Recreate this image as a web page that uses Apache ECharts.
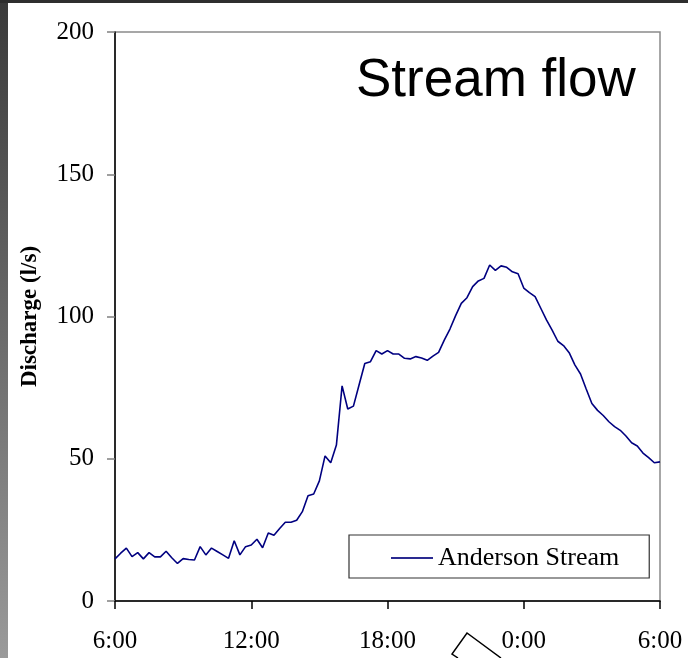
<!DOCTYPE html>
<html>
<head>
<meta charset="utf-8">
<script src="https://cdn.jsdelivr.net/npm/echarts@6/dist/echarts.min.js"></script>
<style>
html,body{margin:0;padding:0;background:#fff;}
#chart{width:688px;height:658px;}
</style>
</head>
<body>
<div id="chart"></div>
<script>
// 15-minute readings from 6:00 to 6:00 the next day
const seriesName = 'Anderson Stream';
const discharge = [
  14.8, 16.8, 18.6, 15.6, 17.0, 14.8, 17.0, 15.5, 15.5, 17.5,
  15.2, 13.2, 14.9, 14.6, 14.4, 19.1, 16.2, 18.6, 17.4, 16.2,
  15.0, 21.2, 16.2, 19.1, 19.7, 21.7, 18.7, 23.9, 23.1, 25.5,
  27.7, 27.7, 28.4, 31.4, 37.0, 37.6, 42.2, 51.0, 48.6, 54.8,
  75.6, 67.5, 68.5, 76.0, 83.5, 84.1, 88.0, 86.8, 88.0, 86.8,
  86.8, 85.3, 85.1, 85.9, 85.4, 84.6, 86.1, 87.4, 91.7, 95.6,
  100.3, 104.6, 106.6, 110.5, 112.5, 113.4, 118.1, 116.2, 117.8, 117.3,
  115.7, 115.0, 110.0, 108.4, 107.0, 102.9, 98.8, 95.2, 91.3, 89.8,
  87.3, 83.0, 79.8, 74.5, 69.4, 67.0, 65.2, 63.0, 61.3, 60.0,
  58.0, 55.6, 54.5, 52.0, 50.4, 48.6, 48.9
];
const stepHours = 0.25;
const xTickLabels = ['6:00', '12:00', '18:00', '0:00', '6:00'];
const yTicks = [0, 50, 100, 150, 200];
const titleText = 'Stream flow';
const yAxisTitle = 'Discharge (l/s)';

const points = discharge.map((v, i) => [i * stepHours, v]);
const serif = "'Liberation Serif','Times New Roman',serif";

const chart = echarts.init(document.getElementById('chart'));
chart.setOption({
  animation: false,
  backgroundColor: '#ffffff',
  title: {
    text: titleText,
    left: 356, top: 55, padding: 0,
    textStyle: {fontFamily: "'Liberation Sans',Arial,sans-serif", fontSize: 53, fontWeight: 'normal', color: '#000'}
  },
  grid: {
    left: 115, top: 32, right: 28, bottom: 57,
    show: true, borderColor: '#8a8a8a', borderWidth: 1.5, backgroundColor: 'transparent'
  },
  legend: {
    data: [{name: seriesName, icon: 'rect'}],
    left: 349, top: 535,
    padding: [10, 30, 7, 42],
    itemWidth: 42, itemHeight: 2,
    backgroundColor: '#fff',
    borderColor: '#333', borderWidth: 1.2,
    itemStyle: {color: '#2a2a90'},
    textStyle: {fontFamily: serif, fontSize: 26, color: '#000'}
  },
  xAxis: {
    type: 'value', min: 0, max: 24, interval: 6,
    axisLine: {show: true, lineStyle: {color: '#000', width: 1.5}},
    axisTick: {show: true, length: 8, lineStyle: {color: '#000', width: 1.5}},
    splitLine: {show: false},
    axisLabel: {
      margin: 28, color: '#000', fontFamily: serif, fontSize: 25,
      formatter: v => xTickLabels[Math.round(v / 6)]
    }
  },
  yAxis: {
    type: 'value', min: yTicks[0], max: yTicks[yTicks.length - 1], interval: 50,
    name: yAxisTitle, nameLocation: 'middle', nameGap: 73, nameRotate: 90,
    nameTextStyle: {fontFamily: serif, fontSize: 23, fontWeight: 'bold', color: '#000'},
    axisLine: {show: true, lineStyle: {color: '#000', width: 1.5}},
    axisTick: {show: true, length: 8, lineStyle: {color: '#808080', width: 1.5}},
    splitLine: {show: false},
    axisLabel: {margin: 21, color: '#000', fontFamily: serif, fontSize: 25}
  },
  series: [{
    name: seriesName,
    type: 'line',
    data: points,
    symbol: 'none',
    lineStyle: {color: '#000080', width: 1.6},
    itemStyle: {color: '#000080'}
  }],
  graphic: [
    {type: 'rect', left: 0, top: 0, z: 100,
     shape: {width: 8, height: 658},
     style: {fill: new echarts.graphic.LinearGradient(0, 0, 0, 1, [{offset: 0, color: '#3a3a3a'}, {offset: 1, color: '#9a9a9a'}])}},
    {type: 'rect', left: 0, top: 0, z: 101,
     shape: {width: 688, height: 3},
     style: {fill: '#2e2e2e'}},
    {type: 'polyline', z: 100,
     shape: {points: [[458, 658], [452, 654], [467, 633], [501, 658]]},
     style: {stroke: '#000', lineWidth: 1.5, fill: null}}
  ]
});
</script>
</body>
</html>
